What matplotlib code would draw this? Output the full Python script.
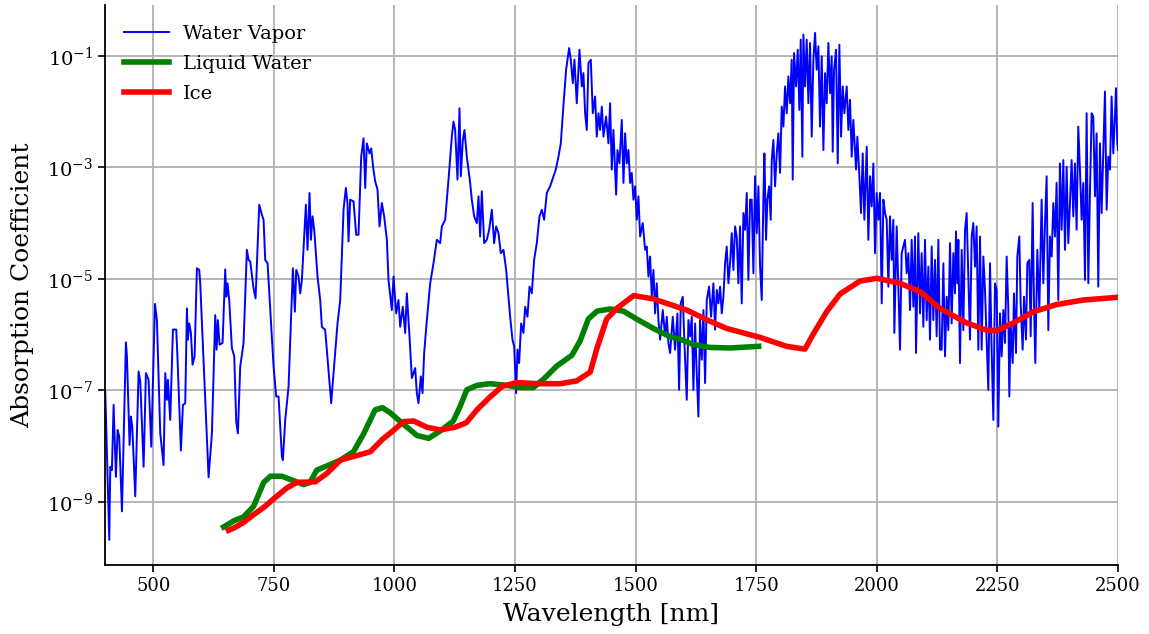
import numpy as np
import matplotlib
matplotlib.use("Agg")
import matplotlib.pyplot as plt
from matplotlib.ticker import FixedLocator, NullLocator

plt.rcParams["font.family"] = "DejaVu Serif"
plt.rcParams["mathtext.fontset"] = "dejavuserif"

# water vapor: (wavelength nm, log10 absorption)
vapor = [
    (400.5, -7.02), (408.8, -9.68), (410.9, -8.37), (414.3, -8.43), (417.8, -7.26), (422.6, -8.55),
    (426.1, -7.71), (429.5, -7.83), (435.1, -9.17), (443.3, -6.14), (445.4, -6.39), (450.9, -7.98),
    (453.7, -7.47), (456.5, -7.65), (462.7, -8.90), (469.6, -6.66), (473.1, -6.84), (480.0, -8.37),
    (484.8, -6.69), (490.3, -6.81), (495.9, -8.01), (503.5, -5.45), (507.6, -5.74), (514.5, -7.77),
    (521.4, -8.34), (524.9, -6.69), (528.3, -7.17), (530.4, -6.81), (535.2, -7.53), (540.8, -5.91),
    (547.7, -5.91), (550.4, -6.45), (557.3, -8.08), (561.5, -7.26), (566.3, -7.23), (569.8, -5.53),
    (571.8, -6.09), (574.6, -5.80), (578.1, -5.97), (581.5, -6.54), (585.7, -6.39), (590.5, -4.81),
    (595.3, -4.84), (597.4, -5.08), (614.7, -8.56), (621.6, -7.77), (628.5, -5.65), (631.3, -6.27),
    (634.0, -5.74), (637.5, -6.18), (643.7, -6.15), (649.2, -4.83), (651.3, -5.32), (654.0, -5.08),
    (657.5, -5.38), (663.0, -6.24), (667.9, -6.39), (672.0, -7.56), (675.5, -7.77), (680.3, -6.57),
    (683.8, -6.36), (687.2, -6.15), (694.1, -4.48), (697.6, -4.66), (701.0, -4.69), (707.9, -5.17),
    (712.1, -5.35), (719.7, -3.67), (725.2, -3.85), (728.7, -3.94), (732.1, -4.66), (737.0, -4.72),
    (749.4, -6.57), (754.9, -7.11), (759.8, -7.11), (766.7, -8.19), (768.7, -8.25), (773.6, -7.53),
    (780.5, -6.93), (789.5, -4.81), (793.6, -5.59), (796.4, -4.84), (801.2, -4.96), (804.7, -5.26),
    (808.1, -5.02), (816.4, -3.67), (819.8, -4.48), (824.0, -3.46), (826.8, -4.30), (830.2, -3.88),
    (833.7, -4.12), (840.6, -4.96), (846.1, -5.38), (849.6, -5.86), (856.5, -5.92), (868.9, -7.23),
    (871.0, -6.99), (877.2, -6.33), (882.0, -5.80), (887.6, -5.38), (894.5, -3.76), (899.3, -3.37),
    (902.7, -3.64), (904.8, -4.33), (908.3, -3.58), (915.2, -3.61), (920.7, -4.21), (925.5, -4.21),
    (931.1, -2.81), (935.9, -2.48), (939.4, -3.37), (942.8, -2.57), (948.3, -2.75), (951.8, -2.66),
    (956.6, -3.05), (960.1, -3.25), (964.9, -3.40), (969.1, -4.06), (973.9, -3.64), (978.7, -3.88),
    (984.3, -4.30), (987.7, -5.02), (994.6, -5.56), (998.1, -4.96), (1003.6, -5.62), (1008.4, -5.38),
    (1011.9, -5.86), (1017.4, -5.50), (1022.3, -5.97), (1025.7, -5.26), (1031.2, -6.03), (1036.1, -6.78),
    (1043.0, -6.60), (1046.4, -7.05), (1049.9, -7.23), (1054.7, -6.75), (1058.2, -7.05), (1061.6, -6.33),
    (1067.2, -5.74), (1074.1, -5.08), (1081.0, -4.72), (1087.9, -4.30), (1094.8, -4.36), (1098.3, -4.06),
    (1105.2, -3.94), (1112.1, -3.22), (1119.0, -2.45), (1122.4, -2.18), (1125.9, -2.33), (1130.7, -3.22),
    (1134.9, -1.94), (1137.6, -3.16), (1141.8, -2.51), (1145.2, -2.33), (1150.1, -2.81), (1157.0, -3.28),
    (1160.4, -3.58), (1165.3, -3.88), (1170.8, -4.00), (1174.3, -3.52), (1177.7, -4.24), (1181.2, -3.43),
    (1186.0, -4.36), (1191.5, -4.30), (1196.4, -4.12), (1201.9, -3.76), (1206.7, -4.36), (1210.9, -4.06),
    (1215.7, -4.18), (1220.5, -4.54), (1226.1, -4.48), (1231.6, -4.84), (1236.4, -5.32), (1239.9, -5.68),
    (1244.7, -6.09), (1248.2, -6.21), (1252.3, -7.05), (1255.1, -6.27), (1258.5, -6.51), (1262.7, -5.80),
    (1267.5, -5.97), (1271.0, -5.50), (1275.8, -5.68), (1280.0, -5.14), (1284.8, -5.26), (1289.6, -4.66),
    (1295.1, -4.36), (1300.7, -3.88), (1305.5, -3.76), (1310.3, -3.94), (1315.9, -3.46), (1322.8, -3.34),
    (1329.7, -3.16), (1334.5, -3.04), (1340.0, -2.81), (1344.9, -2.57), (1350.4, -1.88), (1355.9, -1.25),
    (1362.2, -0.86), (1365.6, -1.07), (1369.8, -1.49), (1373.2, -1.07), (1378.0, -1.85), (1383.6, -0.89),
    (1388.4, -1.55), (1391.8, -1.31), (1395.3, -2.03), (1398.8, -2.33), (1402.2, -1.13), (1407.1, -1.07),
    (1411.2, -2.03), (1416.0, -1.73), (1419.5, -2.45), (1423.0, -2.03), (1426.4, -2.33), (1429.9, -1.91),
    (1433.3, -2.45), (1438.8, -2.09), (1443.7, -2.57), (1447.1, -1.85), (1450.6, -3.04), (1454.0, -2.33),
    (1459.6, -3.49), (1462.3, -2.69), (1466.5, -2.93), (1471.3, -2.15), (1474.8, -3.28), (1478.2, -2.39),
    (1481.7, -2.93), (1485.1, -2.69), (1488.6, -3.28), (1492.0, -3.10), (1495.5, -3.58), (1499.0, -3.34),
    (1502.4, -3.94), (1505.9, -3.52), (1509.3, -4.24), (1514.8, -4.00), (1519.7, -4.48), (1523.1, -4.42),
    (1526.6, -4.96), (1530.0, -4.60), (1533.5, -5.32), (1537.0, -4.84), (1540.4, -5.62), (1543.8, -5.08),
    (1547.3, -5.74), (1550.8, -6.09), (1556.3, -5.56), (1561.1, -6.03), (1564.6, -5.68), (1568.0, -6.15),
    (1571.5, -6.33), (1577.0, -5.68), (1581.8, -6.27), (1586.7, -5.62), (1590.1, -6.99), (1593.6, -5.44),
    (1597.7, -5.32), (1601.2, -6.15), (1606.0, -7.17), (1609.5, -5.74), (1612.9, -6.03), (1616.4, -5.68),
    (1619.8, -6.99), (1623.3, -5.80), (1626.7, -6.69), (1630.2, -7.47), (1633.6, -5.74), (1637.1, -6.45),
    (1640.6, -5.56), (1644.0, -6.87), (1647.5, -5.38), (1652.3, -5.14), (1656.4, -5.68), (1661.3, -5.08),
    (1664.7, -5.91), (1668.2, -5.20), (1671.6, -5.44), (1675.1, -5.14), (1678.6, -5.62), (1682.0, -5.32),
    (1685.5, -4.72), (1688.9, -4.42), (1692.4, -5.08), (1695.8, -4.72), (1699.3, -4.18), (1702.7, -4.84),
    (1706.2, -4.06), (1709.6, -4.24), (1713.1, -5.08), (1716.5, -4.06), (1720.0, -5.44), (1723.5, -3.82),
    (1726.9, -4.12), (1730.4, -3.46), (1733.8, -5.02), (1737.3, -3.58), (1740.7, -3.58), (1744.2, -4.90),
    (1747.6, -3.16), (1751.1, -4.18), (1754.6, -3.34), (1758.0, -4.78), (1761.5, -5.38), (1764.9, -3.52),
    (1767.0, -2.75), (1770.4, -4.30), (1773.2, -3.58), (1776.7, -3.34), (1780.1, -3.94), (1782.2, -2.87),
    (1785.6, -2.51), (1789.1, -3.34), (1792.6, -2.75), (1796.0, -2.39), (1799.5, -3.10), (1802.9, -1.91),
    (1806.4, -2.27), (1809.8, -1.55), (1813.3, -2.03), (1816.7, -1.37), (1820.2, -1.85), (1823.6, -1.07),
    (1825.7, -3.22), (1828.5, -0.95), (1832.6, -1.55), (1836.1, -0.89), (1839.5, -1.97), (1842.3, -0.71),
    (1845.7, -2.81), (1847.8, -0.62), (1851.3, -1.55), (1854.7, -0.71), (1858.2, -1.85), (1861.6, -0.77),
    (1865.1, -2.45), (1868.5, -1.07), (1872.0, -0.59), (1875.4, -1.25), (1878.9, -0.83), (1882.3, -2.27),
    (1885.8, -1.01), (1889.3, -2.69), (1892.7, -1.31), (1896.2, -1.85), (1899.6, -0.77), (1903.1, -1.67),
    (1906.5, -1.01), (1908.6, -2.72), (1911.4, -1.25), (1915.5, -0.89), (1919.0, -2.93), (1922.4, -0.80),
    (1925.9, -2.45), (1929.3, -1.55), (1932.8, -2.03), (1937.6, -1.55), (1941.1, -2.33), (1944.5, -1.79),
    (1948.0, -2.81), (1951.4, -2.15), (1957.0, -3.04), (1959.7, -2.45), (1963.9, -3.16), (1967.3, -3.82),
    (1970.8, -2.75), (1974.2, -3.94), (1979.1, -2.63), (1982.5, -4.30), (1986.0, -3.16), (1989.4, -3.70),
    (1992.9, -2.93), (1996.3, -4.54), (1999.8, -3.46), (2003.2, -3.94), (2006.7, -3.46), (2010.2, -5.44),
    (2013.6, -3.58), (2017.1, -3.82), (2020.5, -3.94), (2024.0, -5.14), (2027.4, -3.88), (2030.9, -4.66),
    (2034.3, -3.94), (2036.4, -5.97), (2041.2, -4.06), (2044.7, -5.14), (2048.1, -6.27), (2051.6, -4.54),
    (2055.1, -4.42), (2058.5, -4.30), (2062.0, -4.90), (2065.4, -4.54), (2068.9, -5.56), (2072.3, -4.30),
    (2075.8, -5.50), (2079.2, -4.24), (2081.3, -6.33), (2086.1, -4.18), (2089.6, -5.62), (2093.0, -4.54),
    (2096.5, -5.86), (2099.9, -4.30), (2103.4, -5.74), (2106.9, -4.78), (2110.3, -6.09), (2113.8, -4.42),
    (2117.2, -5.74), (2120.7, -4.66), (2124.1, -6.03), (2127.6, -4.30), (2131.0, -6.27), (2134.5, -6.27),
    (2138.0, -4.72), (2141.4, -6.39), (2144.9, -5.32), (2148.3, -5.92), (2151.8, -4.36), (2155.2, -5.80),
    (2158.7, -4.54), (2162.1, -5.26), (2164.2, -4.15), (2167.0, -5.08), (2169.1, -4.30), (2172.5, -6.51),
    (2176.0, -4.48), (2179.4, -5.92), (2182.9, -4.12), (2186.3, -3.82), (2189.8, -4.96), (2193.2, -6.09),
    (2196.7, -4.24), (2200.1, -4.00), (2203.6, -4.78), (2207.0, -4.06), (2210.5, -6.27), (2214.0, -4.24),
    (2217.4, -6.27), (2220.9, -4.60), (2224.3, -5.20), (2227.8, -6.09), (2231.2, -6.99), (2234.7, -4.72),
    (2238.1, -6.27), (2241.6, -7.53), (2245.0, -5.08), (2248.5, -5.20), (2251.9, -7.65), (2255.4, -5.62),
    (2258.9, -6.39), (2262.3, -5.56), (2265.8, -6.15), (2269.2, -4.60), (2272.7, -5.56), (2274.7, -7.11),
    (2277.5, -5.80), (2281.7, -6.51), (2284.4, -5.26), (2288.6, -6.33), (2291.3, -4.60), (2295.5, -4.24),
    (2298.2, -5.44), (2302.4, -6.27), (2305.2, -5.32), (2309.3, -6.09), (2312.1, -4.72), (2316.2, -4.66),
    (2319.0, -6.03), (2323.1, -3.64), (2325.9, -5.44), (2328.6, -6.51), (2332.8, -4.48), (2336.9, -5.56),
    (2341.7, -3.58), (2345.2, -5.08), (2348.7, -4.00), (2352.1, -3.16), (2355.6, -5.92), (2359.0, -4.24),
    (2362.5, -4.60), (2365.9, -3.64), (2369.4, -4.24), (2372.8, -3.28), (2376.3, -5.38), (2379.7, -2.93),
    (2383.2, -4.12), (2386.7, -2.87), (2390.1, -4.48), (2393.6, -2.99), (2397.0, -4.36), (2400.5, -3.64),
    (2403.9, -2.87), (2407.4, -3.88), (2410.8, -2.93), (2414.3, -4.12), (2417.7, -2.27), (2421.2, -3.04),
    (2424.6, -3.94), (2428.1, -3.28), (2431.6, -5.02), (2435.0, -2.03), (2438.5, -5.08), (2441.9, -3.46),
    (2445.4, -2.03), (2448.8, -2.09), (2452.3, -3.52), (2455.7, -2.39), (2459.2, -5.14), (2462.6, -2.57),
    (2466.1, -3.82), (2469.5, -2.75), (2473.0, -1.64), (2476.5, -3.76), (2479.9, -2.81), (2483.4, -3.04),
    (2486.8, -1.73), (2490.3, -2.75), (2493.7, -2.09), (2495.8, -1.58), (2498.6, -2.57), (2500.0, -2.69),
]

liquid_nm = [646, 667, 687, 708, 729, 743, 767, 791, 812, 825, 839, 867, 888, 915, 936, 960,
             975, 991, 1019, 1047, 1071, 1098, 1122, 1136, 1150, 1171, 1198, 1233, 1261, 1288,
             1309, 1337, 1368, 1385, 1402, 1420, 1447, 1475, 1502, 1537, 1572, 1592, 1620, 1654,
             1696, 1755]
liquid_log = [-9.45, -9.34, -9.27, -9.08, -8.65, -8.54, -8.54, -8.62, -8.69, -8.65, -8.43, -8.33,
              -8.25, -8.10, -7.78, -7.35, -7.31, -7.40, -7.61, -7.81, -7.86, -7.71, -7.55, -7.29,
              -6.99, -6.91, -6.88, -6.91, -6.95, -6.95, -6.80, -6.56, -6.37, -6.11, -5.72, -5.58,
              -5.54, -5.58, -5.72, -5.89, -6.04, -6.08, -6.18, -6.23, -6.24, -6.21]

ice_nm = [656, 667, 687, 708, 729, 749, 777, 798, 836, 860, 888, 922, 950, 975, 995, 1019,
          1040, 1067, 1095, 1126, 1149, 1171, 1198, 1223, 1254, 1295, 1344, 1378, 1406, 1420,
          1440, 1461, 1496, 1537, 1551, 1606, 1654, 1689, 1758, 1813, 1851, 1869, 1896, 1924,
          1965, 2000, 2048, 2090, 2131, 2186, 2228, 2249, 2283, 2325, 2373, 2428, 2500]
ice_log = [-9.51, -9.47, -9.37, -9.23, -9.10, -8.95, -8.75, -8.65, -8.64, -8.49, -8.25, -8.17,
           -8.10, -7.88, -7.74, -7.56, -7.55, -7.66, -7.71, -7.66, -7.58, -7.35, -7.12, -6.93,
           -6.86, -6.88, -6.88, -6.83, -6.67, -6.24, -5.72, -5.53, -5.30, -5.36, -5.40, -5.56,
           -5.76, -5.89, -6.05, -6.21, -6.26, -5.98, -5.59, -5.27, -5.04, -4.99, -5.08, -5.23,
           -5.53, -5.79, -5.92, -5.93, -5.79, -5.59, -5.46, -5.38, -5.33]


def main():
    vap_nm = np.array([p[0] for p in vapor])
    vap_val = 10.0 ** np.array([p[1] for p in vapor])

    fig = plt.figure(figsize=(11.49, 6.34), dpi=100)
    ax = fig.add_axes([0.0914, 0.109, 0.8816, 0.883])

    ax.plot(vap_nm, vap_val, color="blue", lw=1.4, label="Water Vapor")
    ax.plot(liquid_nm, 10.0 ** np.array(liquid_log), color="green", lw=4,
            solid_joinstyle="round", label="Liquid Water")
    ax.plot(ice_nm, 10.0 ** np.array(ice_log), color="red", lw=4,
            solid_joinstyle="round", label="Ice")

    ax.set_yscale("log")
    ax.set_xlim(400, 2500)
    ax.set_ylim(10 ** -10.13, 10 ** -0.09)
    ax.yaxis.set_major_locator(FixedLocator([1e-9, 1e-7, 1e-5, 1e-3, 1e-1]))
    ax.yaxis.set_minor_locator(NullLocator())
    ax.set_xticks([500, 750, 1000, 1250, 1500, 1750, 2000, 2250, 2500])

    ax.grid(True, color="#b0b0b0", lw=1.3)
    for side in ("top", "right"):
        ax.spines[side].set_visible(False)
    for side in ("left", "bottom"):
        ax.spines[side].set_linewidth(1.3)
    ax.tick_params(axis="x", labelsize=13, width=1.2, length=5)
    ax.tick_params(axis="y", labelsize=14, width=1.2, length=5)

    ax.set_xlabel("Wavelength [nm]", fontsize=18, labelpad=6)
    ax.set_ylabel("Absorption Coefficient", fontsize=18, labelpad=9)
    ax.legend(loc="upper left", frameon=False, fontsize=14, handlelength=2.3,
              handletextpad=0.7, borderaxespad=0.6, labelspacing=0.62)

    fig.savefig("out.png", dpi=100)


if __name__ == "__main__":
    main()
